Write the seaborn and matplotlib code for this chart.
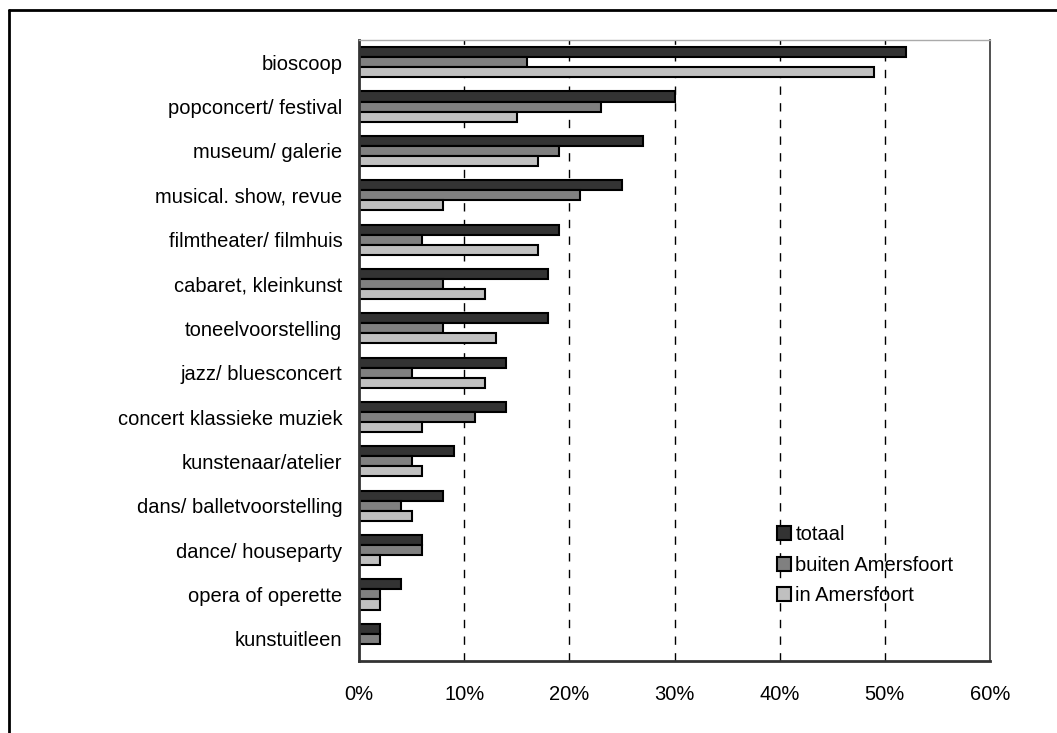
import numpy as np
import pandas as pd
import seaborn as sns
import matplotlib.pyplot as plt
from matplotlib.lines import Line2D
from matplotlib.ticker import FuncFormatter

categories = ['bioscoop', 'popconcert/ festival', 'museum/ galerie', 'musical. show, revue',
              'filmtheater/ filmhuis', 'cabaret, kleinkunst', 'toneelvoorstelling',
              'jazz/ bluesconcert', 'concert klassieke muziek', 'kunstenaar/atelier',
              'dans/ balletvoorstelling', 'dance/ houseparty', 'opera of operette', 'kunstuitleen']
totaal = [52, 30, 27, 25, 19, 18, 18, 14, 14, 9, 8, 6, 4, 2]
buiten = [16, 23, 19, 21, 6, 8, 8, 5, 11, 5, 4, 6, 2, 2]
in_amf = [49, 15, 17, 8, 17, 12, 13, 12, 6, 6, 5, 2, 2, 0]
series = ['totaal', 'buiten Amersfoort', 'in Amersfoort']
colors = ['#333333', '#808080', '#c0c0c0']

df = pd.DataFrame({'activiteit': categories, 'totaal': totaal,
                   'buiten Amersfoort': buiten, 'in Amersfoort': in_amf})
df_melt = df.melt(id_vars='activiteit', value_vars=series, var_name='groep', value_name='pct')

sns.set_style('white')
plt.rcParams['font.family'] = ['Liberation Sans', 'DejaVu Sans']
plt.rcParams['text.color'] = 'black'
plt.rcParams['xtick.color'] = 'black'
plt.rcParams['ytick.color'] = 'black'

fig = plt.figure(figsize=(10.57, 7.33), dpi=100)
ax = fig.add_axes([359/1057, 72/733, 631/1057, 621/733])

sns.barplot(data=df_melt, y='activiteit', x='pct', hue='groep', order=categories,
            hue_order=series, palette=colors, orient='h', width=0.68,
            edgecolor='black', linewidth=1.5, ax=ax, legend=True)

ax.set_xlim(0, 60)
ax.set_xticks(range(0, 61, 10))
ax.xaxis.set_major_formatter(FuncFormatter(lambda v, p: f'{int(v)}%'))
ax.set_xlabel('')
ax.set_ylabel('')
for x in range(10, 60, 10):
    ax.axvline(x, color='black', linestyle=(0, (6, 6)), linewidth=1, zorder=0)
ax.tick_params(axis='x', length=0, pad=17, labelsize=14.5)
ax.tick_params(axis='y', length=0, pad=12, labelsize=14.5)

for side in ['left', 'bottom']:
    ax.spines[side].set_color('#333333')
    ax.spines[side].set_linewidth(2)
ax.spines['top'].set_color('#aaaaaa')
ax.spines['top'].set_linewidth(1)
ax.spines['right'].set_color('#333333')
ax.spines['right'].set_linewidth(1.2)

handles, labels = ax.get_legend_handles_labels()
ax.legend(handles, labels, loc='upper left', bbox_to_anchor=(0.65, 0.232),
          frameon=False, fontsize=14.5, handlelength=0.7, handleheight=0.7,
          handletextpad=0.2, labelspacing=0.58, borderaxespad=0)

# outer frame
fig.add_artist(Line2D([9/1057, 1], [1 - 10/733, 1 - 10/733], color='black', linewidth=2))
fig.add_artist(Line2D([9/1057, 9/1057], [0, 1 - 10/733], color='black', linewidth=2))

fig.savefig('out.png', dpi=100)
